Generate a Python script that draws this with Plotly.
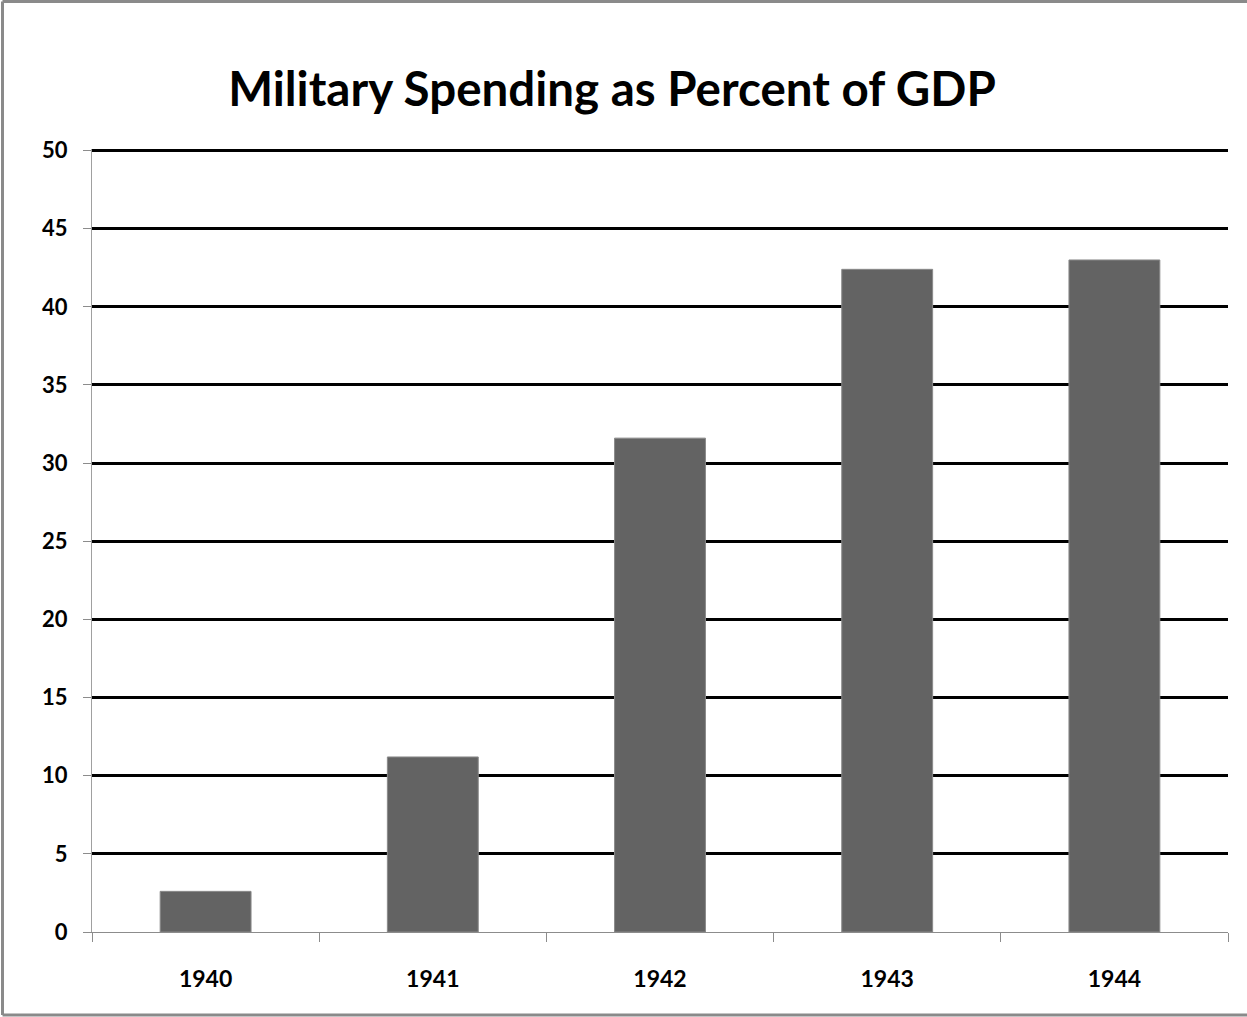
import plotly.graph_objects as go

years = ["1940", "1941", "1942", "1943", "1944"]
spending_pct = [2.6, 11.2, 31.6, 42.4, 43.0]
y_ticks = [0, 5, 10, 15, 20, 25, 30, 35, 40, 45, 50]

FONT = "Lato, Open Sans, sans-serif"

W, H = 1247, 1017
L, R, T, B = 92, 19, 149, 85

fig = go.Figure(
    go.Bar(
        x=years,
        y=spending_pct,
        marker=dict(color="#636363", line=dict(color="#8a8a8a", width=1)),
        hoverinfo="x+y",
    )
)

fig.update_layout(
    width=W,
    height=H,
    margin=dict(l=L, r=R, t=T, b=B),
    paper_bgcolor="white",
    plot_bgcolor="white",
    bargap=0.6,
    showlegend=False,
    title=dict(
        text="<b>Military Spending as Percent of GDP</b>",
        x=612 / W,
        xanchor="center",
        y=1 - 89 / H,
        yanchor="middle",
        font=dict(family=FONT, size=47.5, color="black"),
    ),
    font=dict(family=FONT, color="black"),
)

fig.update_yaxes(
    range=[0, 50.1],
    tickvals=y_ticks,
    ticktext=["<b>%d</b>" % v for v in y_ticks],
    showgrid=True,
    gridcolor="black",
    gridwidth=3,
    zeroline=True,
    zerolinecolor="#8c8c8c",
    zerolinewidth=1,
    showline=True,
    linecolor="#a0a0a0",
    linewidth=1,
    ticks="outside",
    ticklen=8,
    tickcolor="#8c8c8c",
    tickfont=dict(family=FONT, size=22, color="black"),
    ticklabelstandoff=11,
    fixedrange=True,
)

fig.update_xaxes(
    type="category",
    tickvals=years,
    ticktext=["<b>%s</b>" % y for y in years],
    showgrid=False,
    showline=True,
    linecolor="#8c8c8c",
    linewidth=1,
    ticks="outside",
    tickson="boundaries",
    ticklen=9,
    tickcolor="#8c8c8c",
    tickfont=dict(family=FONT, size=23, color="black"),
    ticklabelstandoff=26,
    fixedrange=True,
)

# outer chart border (top, left, bottom edges only)
pw, ph = W - L - R, H - T - B
bx0, bx1 = (2.5 - L) / pw, (W - L) / pw
by_top, by_bot = ((H - B) - 1.5) / ph, -(1015 - (H - B)) / ph
border = dict(color="#8a8a8a", width=3)
for (xa, ya, xb, yb) in [
    (bx0, by_top, bx1, by_top),
    (bx0, by_bot, bx1, by_bot),
    (bx0, by_bot, bx0, by_top),
]:
    fig.add_shape(type="line", xref="paper", yref="paper",
                  x0=xa, y0=ya, x1=xb, y1=yb, line=border, layer="below")

fig.write_html(
    "out.html",
    config={"displayModeBar": False},
    post_script="document.body.style.margin='0';",
)
